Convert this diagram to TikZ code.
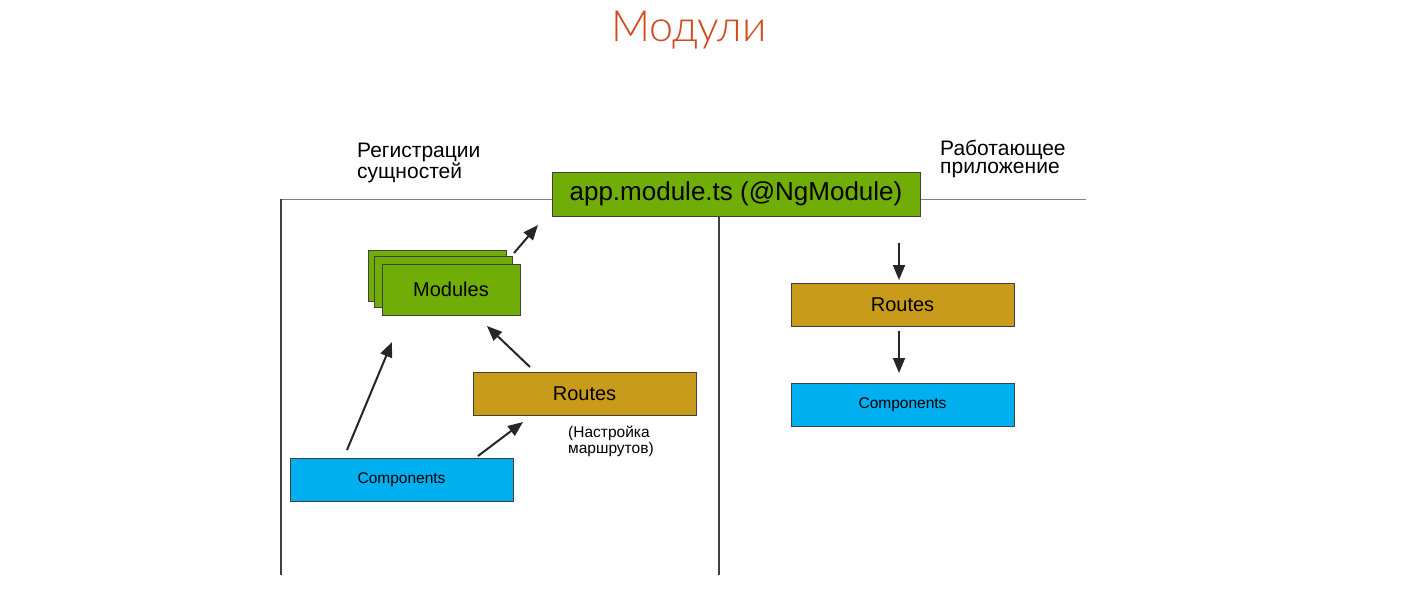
\documentclass[tikz,border=0pt]{standalone}
\usepackage{fontspec}
\setmainfont{Liberation Sans}
\newfontfamily\titlefont{Lato Light}
\usetikzlibrary{arrows.meta}
\definecolor{titleorange}{HTML}{D24A20}
\definecolor{modgreen}{HTML}{70AD07}
\definecolor{routegold}{HTML}{C89C1A}
\definecolor{compblue}{HTML}{00AFEF}
\definecolor{frame}{HTML}{404040}
\tikzset{
  box/.style={draw=frame, line width=0.9pt, inner sep=0pt, align=center, text=black},
  greenbox/.style={box, fill=modgreen},
  goldbox/.style={box, fill=routegold, minimum width=223pt, minimum height=43pt, font=\fontsize{20}{22}\selectfont},
  bluebox/.style={box, fill=compblue, minimum width=223pt, minimum height=43pt, font=\fontsize{15.5}{17}\selectfont},
  arr/.style={line width=2pt, draw=black!85, -{Triangle[length=15pt,width=12pt]}},
  lbl/.style={align=left, anchor=north west, inner sep=0pt, font=\fontsize{21}{18}\selectfont},
  sep/.style={line width=1.2pt, draw=black!75},
  sepgray/.style={line width=1pt, draw=black!50}
}
\begin{document}
\begin{tikzpicture}[x=1pt,y=-1pt]
\useasboundingbox (0,0) rectangle (1411,611);
% title
\node[font=\titlefont\fontsize{43}{46}\selectfont, text=titleorange] (title) at (689,30) {Модули};
% frame lines
\coordinate (hl1) at (281,199);
\coordinate (hl2) at (552,199);
\coordinate (hr1) at (920,199);
\coordinate (hr2) at (1086,199);
\coordinate (vl2) at (281,575);
\coordinate (vm1) at (719,216);
\coordinate (vm2) at (719,575);
\draw[sepgray] (hl2) -- (hl1);
\draw[sep] (hl1) -- (vl2);
\draw[sepgray] (hr1) -- (hr2);
\draw[sep] (vm1) -- (vm2);
% section labels
\node[lbl] (regl) at (357,143) {Регистрации\\сущностей};
\node[lbl] (runl) at (940,140) {Работающее\\приложение};
% app module
\node[greenbox, minimum width=368pt, minimum height=44pt, font=\fontsize{26}{28}\selectfont] (app) at (736,194) {app.module.ts (@NgModule)};
% modules stack
\node[greenbox, minimum width=138pt, minimum height=51pt] (modb) at (437,275.5) {};
\node[greenbox, minimum width=138pt, minimum height=51pt] (modm) at (443,281.5) {};
\node[greenbox, minimum width=138pt, minimum height=51pt, font=\fontsize{20}{22}\selectfont] (mod) at (451,289.5) {Modules};
% left routes / components
\node[goldbox] (routesL) at (584.5,393.5) {Routes};
\node[bluebox] (compL) at (401.5,479.5) {Components};
\node[anchor=north west, align=left, inner sep=0pt, font=\fontsize{15.5}{16}\selectfont] (note) at (568,426) {(Настройка\\маршрутов)};
% right routes / components
\node[goldbox] (routesR) at (902.5,304.5) {Routes};
\node[bluebox] (compR) at (902.5,404.5) {Components};
% arrow endpoints
\coordinate (a1s) at (514,253); \coordinate (a1e) at (538,225);
\coordinate (a2s) at (530,367); \coordinate (a2e) at (487,326);
\coordinate (a3s) at (347,450); \coordinate (a3e) at (392,342);
\coordinate (a4s) at (478,456); \coordinate (a4e) at (523,422);
\coordinate (a5s) at (899,243); \coordinate (a5e) at (899,280);
\coordinate (a6s) at (899,331); \coordinate (a6e) at (899,373);
\draw[arr] (a1s) -- (a1e);
\draw[arr] (a2s) -- (a2e);
\draw[arr] (a3s) -- (a3e);
\draw[arr] (a4s) -- (a4e);
\draw[arr] (a5s) -- (a5e);
\draw[arr] (a6s) -- (a6e);
\end{tikzpicture}
\end{document}
